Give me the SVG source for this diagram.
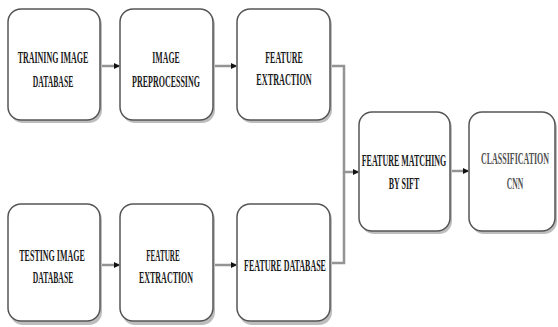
<svg xmlns="http://www.w3.org/2000/svg" width="558" height="327" viewBox="0 0 558 327">
<style>
.box{fill:#fff;stroke:#555;stroke-width:1.5}
.sh{fill:#bdbdbd}
.t{font-family:"Liberation Serif","Times New Roman",serif;font-weight:bold;font-size:17px;fill:#1a1a1a;text-anchor:middle}
.g{fill:#505050}
.c{fill:none;stroke:#949494;stroke-width:2.5}
</style>
<defs>
<marker id="ah" markerWidth="6" markerHeight="6" refX="5" refY="3" orient="auto" markerUnits="userSpaceOnUse">
<path d="M0,0 L6,3 L0,6 Z" fill="#111"/>
</marker>
</defs>
<g id="connectors">
<path class="c" d="M100,66 H119" marker-end="url(#ah)"/>
<path class="c" d="M213,66 H236" marker-end="url(#ah)"/>
<path class="c" d="M330,66 H344 V172 H358" marker-end="url(#ah)"/>
<path class="c" d="M330,263 H344 V172"/>
<path class="c" d="M450,171 H468" marker-end="url(#ah)"/>
<path class="c" d="M100,265 H119" marker-end="url(#ah)"/>
<path class="c" d="M213,265 H236" marker-end="url(#ah)"/>
</g>
<g id="training">
<rect class="sh" x="10" y="12" width="92" height="111" rx="13"/>
<rect class="box" x="8" y="9" width="92" height="111" rx="13"/>
<text class="t" transform="translate(53,63) scale(0.47,1)">TRAINING IMAGE</text>
<text class="t" transform="translate(53,87) scale(0.45,1)">DATABASE</text>
</g>
<g id="preprocessing">
<rect class="sh" x="122" y="12" width="93" height="111" rx="13"/>
<rect class="box" x="120" y="9" width="93" height="111" rx="13"/>
<text class="t" transform="translate(166,63) scale(0.46,1)">IMAGE</text>
<text class="t" transform="translate(166,87) scale(0.47,1)">PREPROCESSING</text>
</g>
<g id="extraction1">
<rect class="sh" x="239" y="12" width="93" height="111" rx="13"/>
<rect class="box" x="237" y="9" width="93" height="111" rx="13"/>
<text class="t" transform="translate(284,63) scale(0.47,1)">FEATURE</text>
<text class="t" transform="translate(284,85) scale(0.48,1)">EXTRACTION</text>
</g>
<g id="testing">
<rect class="sh" x="10" y="207" width="92" height="118" rx="13"/>
<rect class="box" x="8" y="204" width="92" height="117" rx="13"/>
<text class="t" transform="translate(52,261) scale(0.47,1)">TESTING IMAGE</text>
<text class="t" transform="translate(53,283) scale(0.45,1)">DATABASE</text>
</g>
<g id="extraction2">
<rect class="sh" x="122" y="207" width="93" height="118" rx="13"/>
<rect class="box" x="120" y="204" width="93" height="117" rx="13"/>
<text class="t" transform="translate(163,261) scale(0.42,1)">FEATURE</text>
<text class="t" transform="translate(166,283) scale(0.47,1)">EXTRACTION</text>
</g>
<g id="featuredb">
<rect class="sh" x="239" y="207" width="93" height="118" rx="13"/>
<rect class="box" x="237" y="204" width="93" height="117" rx="13"/>
<text class="t" transform="translate(285,271) scale(0.47,1)">FEATURE DATABASE</text>
</g>
<g id="matching">
<rect class="sh" x="361" y="115" width="91" height="119" rx="13"/>
<rect class="box" x="359" y="112" width="91" height="119" rx="13"/>
<text class="t" transform="translate(404,166) scale(0.47,1)">FEATURE MATCHING</text>
<text class="t" transform="translate(404,189) scale(0.47,1)">BY SIFT</text>
</g>
<g id="classification">
<rect class="sh" x="471" y="115" width="86" height="119" rx="13"/>
<rect class="box" x="469" y="112" width="86" height="119" rx="13"/>
<text class="t g" transform="translate(515,164) scale(0.47,1)">CLASSIFICATION</text>
<text class="t g" transform="translate(515,189) scale(0.45,1)">CNN</text>
</g>
</svg>
